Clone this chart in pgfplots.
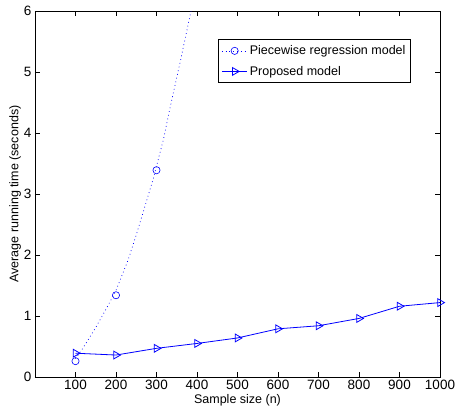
\documentclass[border=0pt]{standalone}
\usepackage{fontspec}
\setmainfont{Liberation Sans}
\usepackage{pgfplots}
\pgfplotsset{compat=1.18}
\begin{document}
\begin{tikzpicture}
\path[use as bounding box] (-35pt,-35pt) rectangle (422pt,377pt);
\begin{axis}[
  at={(0pt,0pt)}, anchor=south west,
  scale only axis, width=405pt, height=366pt,
  xmin=0, xmax=1000, ymin=0, ymax=6,
  xtick={100,200,...,1000}, ytick={0,1,...,6},
  tick align=inside, tick pos=both,
  major tick length=5pt,
  axis line style={line width=0.8pt},
  tick style={line width=0.6pt, black},
  /pgf/number format/assume math mode=true,
  /pgf/number format/set thousands separator={},
  every tick label/.append style={font=\fontsize{13.5}{15}\selectfont},
  every axis label/.append style={font=\fontsize{12.5}{14}\selectfont},
  xlabel={Sample size (n)},
  ylabel={Average running time (seconds)},
  xlabel style={yshift=3pt},
  ylabel style={yshift=-4pt},
  legend style={at={(0.452,0.923)}, anchor=north west, draw=black, line width=0.8pt,
    font=\fontsize{12.5}{14}\selectfont, row sep=6pt, inner sep=3pt, inner ysep=4pt},
  legend image code/.code={\draw[mark repeat=2,mark phase=2,#1] plot coordinates {(0cm,0cm) (0.45cm,0cm) (0.9cm,0cm)};},
  legend cell align=left,
  clip=true,
]
\addplot[blue, dash pattern=on 0.8pt off 3pt, line width=0.7pt, mark=none, forget plot] coordinates {
 (100,0.30) (118,0.47) (148,0.79) (177,1.13) (200,1.42) (230,1.92) (251,2.35) (267,2.70) (292,3.25) (317,3.89) (333,4.40) (358,5.15) (383,5.93) (390,6.15)};
\addplot[blue, only marks, mark=o, mark size=3.6pt, line width=0.6pt, forget plot] coordinates {
 (100,0.26) (200,1.34) (300,3.39)};
\addlegendimage{blue, dash pattern=on 0.8pt off 3pt, line width=0.7pt, mark=o, mark size=3.6pt, mark options={solid, line width=0.6pt}}
\addlegendentry{Piecewise regression model}
\addplot[blue, line width=0.8pt, mark=triangle, mark size=4.5pt, mark options={rotate=-90, solid}] coordinates {
 (100,0.39) (200,0.36) (300,0.47) (400,0.55) (500,0.64) (600,0.79) (700,0.84) (800,0.96) (900,1.16) (1000,1.22)};
\addlegendentry{Proposed model}
\end{axis}
\end{tikzpicture}
\end{document}
